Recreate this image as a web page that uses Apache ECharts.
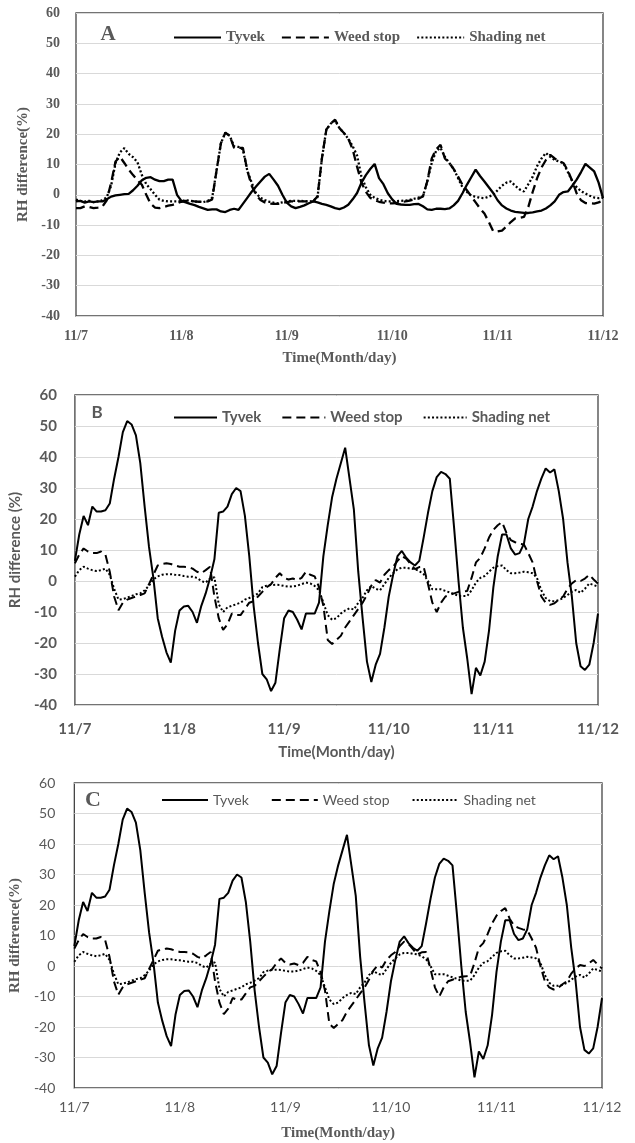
<!DOCTYPE html>
<html>
<head>
<meta charset="utf-8">
<script src="https://cdn.jsdelivr.net/npm/echarts@6/dist/echarts.min.js"></script>
<style>html,body{margin:0;padding:0;background:#fff;}#chart{width:635px;height:1143px;}</style>
</head>
<body>
<div id="chart"></div>
<script>
// ---------- DATA (hourly RH difference, %, from 11/7 00:00 to 11/12 00:00) ----------
const dayLabels = ['11/7', '11/8', '11/9', '11/10', '11/11', '11/12'];
const seriesNames = ['Tyvek', 'Weed stop', 'Shading net'];
const panelLetters = ['A', 'B', 'C'];

// Panel A
const tyvekA = [
  -2.2,-2,-2.6,-2.2,-2.4,-2.2,-2.2,-1.5,-0.6,-0.2,
  0,0.2,0.3,1.5,3,4.8,5.6,5.8,5,4.5,
  4.5,5,5,0,-2,-2.5,-3,-3.4,-4,-4.5,
  -5,-4.8,-4.8,-5.5,-5.7,-5,-4.6,-5,-3,-1,
  1,2.7,4.4,6,6.9,5,3,0,-2.6,-3.8,
  -4.4,-4,-3.5,-2.8,-2.2,-2.5,-3,-3.3,-3.8,-4.4,
  -4.7,-4.2,-3.3,-1.5,0.6,4,6.5,8.5,10.2,5.5,
  3.5,0.5,-1.5,-3,-3.2,-3.3,-3.3,-3.1,-3,-3.8,
  -4.8,-5,-4.6,-4.6,-4.7,-4.5,-3.5,-2,0.5,3.3,
  5.8,8.3,6.2,4.4,2.5,0.6,-1.8,-3.5,-4.5,-5.2,
  -5.6,-5.8,-6,-6,-5.8,-5.5,-5.2,-4.5,-3.5,-2.2,
  0,0.9,1.1,3,5,7.5,10.2,9,7.7,4,
  -1.1];
const weedA = [
  -4.4,-4.4,-3.8,-4,-4.4,-4.2,-3.9,-1.8,4,11,
  12.6,10.5,8.3,6.5,4.8,3.3,0,-3,-4.2,-4.4,
  -4,-3.6,-3.3,-2.8,-2.3,-2,-2,-2.2,-2.3,-2.4,
  -2.2,-1.5,8,17,20.5,19.5,15.5,15.5,15.5,8,
  3,0,-1.7,-2.5,-2.9,-3,-3,-2.7,-2.4,-2.2,
  -2.2,-2.2,-2.2,-2.2,-2.2,-0.5,12,21.5,23.5,24.8,
  22,20.4,18.5,15,9.3,4,1,-1,-1.8,-2.3,
  -2.6,-2.8,-2.8,-2.7,-2.4,-2.2,-1.9,-1.6,-1.3,-0.5,
  4.5,12,15,16.5,12,10.5,8.5,6,3.3,1.5,
  -0.5,-2.5,-4.5,-6.2,-9,-12,-12.1,-11.8,-10.5,-9,
  -7.8,-7.6,-7.3,-4,1,5.5,9,11.5,13.2,12,
  11,10.5,8,4.5,0.5,-1.8,-2.7,-2.8,-2.9,-2.5,
  -1.8];
const shadeA = [
  -1.6,-2,-2.2,-2,-2.4,-2.2,-1.8,-0.8,3,10.5,
  14,15.4,13.5,12.4,10.7,6.5,3.5,1.8,0,-1.6,
  -2,-2.2,-2.2,-2.2,-2.1,-1.8,-2,-2.2,-2.3,-2.4,
  -2,-1,8,17,20.5,19.5,16,15.8,15,8,
  4,0.5,-1,-1.7,-2.3,-2.6,-2.8,-2.5,-2.2,-2,
  -2,-2,-2.1,-2.2,-2,-0.8,12,21.5,23.5,24.5,
  22,20.4,18.5,16,13,6,2.5,0,-1,-1.6,
  -2,-2.2,-2.2,-2.1,-2,-1.9,-1.7,-1.3,-0.9,-0.5,
  4.5,10.5,14.5,15.5,12.5,10.5,8.5,5.5,2.5,1,
  -0.3,-0.6,-1,-1.1,-0.6,0,1.5,3,4,4.4,
  3,1.8,1.1,3.5,6,9.5,12,13.8,12.5,11.5,
  11,10.5,7.5,4.5,2.5,1.2,0.4,-0.3,-0.9,-1.1,
  -1];

// Panels B and C (same measurements)
const tyvekB = [
  6.5,15,21,18,24,22.4,22.4,22.8,25,33,
  40,48,51.6,50.5,47,38,24,11,1,-12,
  -18,-23,-26.3,-16,-9.5,-8.2,-8,-10,-13.5,-8,
  -4,1,7,22,22.4,24,28,30,29,21,
  8,-8,-20,-30,-31.7,-35.5,-32.8,-22,-12,-9.5,
  -10,-12.5,-15.6,-10.5,-10.5,-10.5,-7,8,18,27,
  33,38,43,33,23,3,-12,-26,-32.6,-27,
  -23.5,-15,-5,2,8,9.7,7.5,6,5,6.5,
  14,22,29,33.5,35.2,34.5,33,17,0,-15,
  -25,-36.5,-28,-30.5,-26,-16,-2,8,15,15,
  10.5,8.5,9,12,20,24,29,33,36.3,35,
  36,29,20,6,-5,-20,-27.5,-28.7,-27,-20,
  -10.5];
const weedB = [
  5.7,8.5,10.5,9.5,9,9,9.5,8.5,3,-5,
  -9.4,-7,-6,-5.5,-5,-4.5,-4,-1,2,5,
  5.5,5.7,5.5,5,4.6,4.6,4.5,4,3,2.5,
  3.5,4.6,-5,-12,-15.8,-14,-10.5,-11,-11,-9,
  -7,-6.5,-5,-3.5,-2,-1,1,2.5,1,0.5,
  0.8,0.3,1,3,2,1.5,-2,-8,-19,-20.3,
  -19,-17.7,-15,-13,-11,-9,-7,-4.5,-1.5,0.3,
  -0.5,2,3.5,4.6,6.5,8,7.2,5.5,3.8,4.5,
  4.6,-1,-7,-10,-7,-5,-4.5,-4,-3.5,-3.4,
  -3.2,1,6,7.5,10.5,14,16.5,18,19,15.5,
  13.2,12.5,12,11.8,9,6,0,-5,-7,-7.7,
  -7.2,-6,-5,-2.5,-0.8,0.3,0,0.8,2,0.5,
  -0.8];
const shadeB = [
  1.4,3.5,4.6,4,3.5,3.2,3.5,4,2,-2.5,
  -6,-5.8,-5.4,-4.8,-4.3,-4,-3,-1.5,0.5,1.5,
  2,2.2,2.2,2,1.9,1.6,1.4,1.4,1,0,
  -0.5,0.8,1.2,-7.5,-10,-8.5,-8,-7.5,-7,-6,
  -5.5,-4.8,-4,-2,-1.5,-1.3,-1.2,-1.3,-1.6,-1.8,
  -1.8,-1.5,-1,-0.5,-0.8,-1.6,-3,-7,-11,-12.5,
  -12,-10.5,-9.5,-8.8,-9.2,-7,-5.4,-3,-1.6,-2.5,
  -3,-1,1,2.5,3.8,4.3,4.3,4,3.8,3.2,
  2.2,0,-2.7,-2.7,-2.7,-3.2,-3.7,-4.2,-4.8,-4.8,
  -4.8,-3,-0.5,1,1.6,3,4.3,4.8,5,3.5,
  2.5,2.5,2.7,3,2.8,2.5,1,-3,-5.5,-6.5,
  -6.5,-6.2,-5.5,-4.5,-3.5,-2.9,-3.8,-2.5,-0.8,-1.3,
  -1.8];
const tyvekC = tyvekB, weedC = weedB, shadeC = shadeB;

const yTicks = { min: -40, max: 60, step: 10 };
const hoursPerDay = 24;

// ---------- STYLE ----------
const gray = '#595959';
const panels = [
  { data: [tyvekA, weedA, shadeA],
    grid: { left: 76, top: 13, width: 527, height: 303 },
    tick: { fontFamily: 'Liberation Serif', fontWeight: 'bold', fontSize: 14, color: gray },
    name: { fontFamily: 'Liberation Serif', fontWeight: 'bold', fontSize: 15, color: gray },
    yName: 'RH difference(%)', yMargin: 16, xMargin: 13, xGap: 35, yGap: 45,
    lw: 2.3,
    legend: { left: 168, top: 25, itemWidth: 47, itemGap: 16,
      text: { fontFamily: 'Liberation Serif', fontWeight: 'bold', fontSize: 15, color: gray } },
    letter: { x: 108, y: 35, font: 'bold 21px "Liberation Serif"' } },
  { data: [tyvekB, weedB, shadeB],
    grid: { left: 66, top: 395, width: 532, height: 310 },
    tick: { fontFamily: 'Lato', fontWeight: 'bold', fontSize: 15, color: gray },
    name: { fontFamily: 'Lato', fontWeight: 'bold', fontSize: 15, color: gray },
    yName: 'RH difference (%)', yMargin: 18, xMargin: 17, xGap: 40, yGap: 40,
    lw: 2,
    legend: { left: 168, top: 405, itemWidth: 43, itemGap: 20,
      text: { fontFamily: 'Lato', fontWeight: 'bold', fontSize: 15, color: gray } },
    letter: { x: 97, y: 413, font: 'bold 17px Lato' } },
  { data: [tyvekC, weedC, shadeC],
    grid: { left: 71, top: 783, width: 531, height: 305 },
    tick: { fontFamily: 'Lato', fontWeight: 'normal', fontSize: 14, color: gray },
    name: { fontFamily: 'Liberation Serif', fontWeight: 'bold', fontSize: 15, color: gray },
    yName: 'RH difference(%)', yMargin: 19, xMargin: 12, xGap: 38, yGap: 43,
    lw: 2,
    legend: { left: 156, top: 788, itemWidth: 46, itemGap: 22,
      text: { fontFamily: 'Lato', fontWeight: 'normal', fontSize: 14, color: gray } },
    letter: { x: 93, y: 800, font: 'bold 22px "Liberation Serif"' } }
];
const lineTypes = ['solid', [9, 5], [2, 2.2]];

const option = { animation: false, backgroundColor: '#fff',
  grid: [], xAxis: [], yAxis: [], series: [], legend: [], graphic: [] };

panels.forEach((p, pi) => {
  const suffix = ' '.repeat(pi); // keep legend names unique per panel
  option.grid.push(Object.assign({ show: true, borderColor: '#454545', borderWidth: 1.3,
    backgroundColor: 'transparent' }, p.grid));
  option.xAxis.push({ type: 'value', gridIndex: pi, min: 0, max: (dayLabels.length - 1) * hoursPerDay,
    interval: hoursPerDay,
    axisLine: { show: false }, axisTick: { show: false }, splitLine: { show: false },
    axisLabel: Object.assign({ margin: p.xMargin, formatter: v => dayLabels[Math.round(v / hoursPerDay)] }, p.tick),
    name: 'Time(Month/day)', nameLocation: 'middle', nameGap: p.xGap, nameTextStyle: p.name });
  option.yAxis.push({ type: 'value', gridIndex: pi, min: yTicks.min, max: yTicks.max, interval: yTicks.step,
    axisLine: { show: false }, axisTick: { show: false },
    splitLine: { show: true, lineStyle: { color: '#d9d9d9', width: 1 } },
    axisLabel: Object.assign({ margin: p.yMargin }, p.tick),
    name: p.yName, nameLocation: 'middle', nameGap: p.yGap, nameTextStyle: p.name });
  const names = [];
  p.data.forEach((vals, si) => {
    const nm = seriesNames[si] + suffix;
    names.push(nm);
    option.series.push({ type: 'line', name: nm, xAxisIndex: pi, yAxisIndex: pi,
      data: vals.map((v, i) => [i, v]),
      symbol: 'none', showSymbol: false, smooth: false,
      lineStyle: { color: '#000', width: p.lw, type: lineTypes[si], cap: 'butt' },
      itemStyle: { color: '#000' }, z: 3 - si });
  });
  option.legend.push({ data: names, left: p.legend.left, top: p.legend.top, orient: 'horizontal',
    itemWidth: p.legend.itemWidth, itemHeight: 14, itemGap: p.legend.itemGap,
    itemStyle: { opacity: 0 },
    formatter: n => n.trim(), textStyle: p.legend.text, selectedMode: false });
  option.graphic.push({ type: 'text', x: p.letter.x, y: p.letter.y,
    style: { text: panelLetters[pi], font: p.letter.font, fill: gray, textAlign: 'center', textVerticalAlign: 'middle' } });
});

const chart = echarts.init(document.getElementById('chart'), null, { renderer: 'canvas' });
chart.setOption(option);
</script>
</body>
</html>
